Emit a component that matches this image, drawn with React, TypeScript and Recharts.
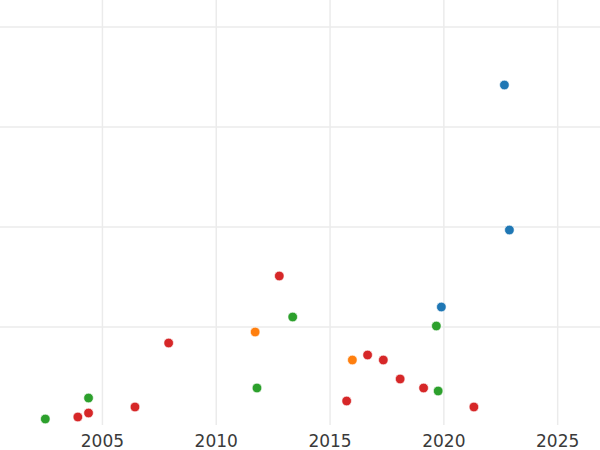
import React from 'react';
import { CartesianGrid, Scatter, ScatterChart, XAxis, YAxis } from 'recharts';

// years (x) and values (y) per group
const blueYears = [2022.66, 2022.88, 2019.89];
const blueValues = [3.42, 1.97, 1.2];

const orangeYears = [2011.71, 2015.98];
const orangeValues = [0.95, 0.67];

const greenYears = [2002.49, 2004.39, 2011.79, 2013.36, 2019.67, 2019.75];
const greenValues = [0.08, 0.29, 0.39, 1.1, 1.01, 0.36];

const redYears = [
  2003.92, 2004.39, 2006.43, 2007.91, 2012.77, 2015.73, 2016.65, 2017.34, 2018.08, 2019.11, 2021.32,
];
const redValues = [0.1, 0.14, 0.2, 0.84, 1.51, 0.26, 0.72, 0.67, 0.48, 0.39, 0.2];

const xTicks = [2005, 2010, 2015, 2020, 2025];
const yTicks = [1, 2, 3, 4];

const toPoints = (xs: number[], ys: number[]) => xs.map((x, i) => ({ x, y: ys[i] }));

const series = [
  { name: 'blue', color: '#1f77b4', data: toPoints(blueYears, blueValues) },
  { name: 'orange', color: '#ff7f0e', data: toPoints(orangeYears, orangeValues) },
  { name: 'green', color: '#2ca02c', data: toPoints(greenYears, greenValues) },
  { name: 'red', color: '#d62728', data: toPoints(redYears, redValues) },
];

const Dot = (props: any) => (
  <circle cx={props.cx} cy={props.cy} r={4.8} fill={props.fill} stroke='#ffffff' strokeWidth={0.6} />
);

const App = () => {
  return (
    <div style={{ position: 'absolute', left: 0, top: 0 }}>
      <ScatterChart width={600} height={450} margin={{ top: 0, right: 0, left: 0, bottom: 0 }}>
        <CartesianGrid
          stroke='#ebebeb'
          strokeWidth={1.5}
          verticalValues={xTicks}
          horizontalValues={yTicks}
        />
        <XAxis
          type='number'
          dataKey='x'
          domain={[2000.5, 2026.86]}
          ticks={xTicks}
          allowDataOverflow
          axisLine={false}
          tickLine={false}
          tickMargin={4}
          height={25}
          tick={{ fill: '#3a3a3a', fontSize: 17, fontFamily: 'DejaVu Sans' }}
        />
        <YAxis type='number' dataKey='y' domain={[0.02, 4.27]} ticks={yTicks} allowDataOverflow hide />
        {series.map((s) => (
          <Scatter
            key={s.name}
            name={s.name}
            data={s.data}
            fill={s.color}
            shape={Dot}
            isAnimationActive={false}
          />
        ))}
      </ScatterChart>
    </div>
  );
};

export default App;
